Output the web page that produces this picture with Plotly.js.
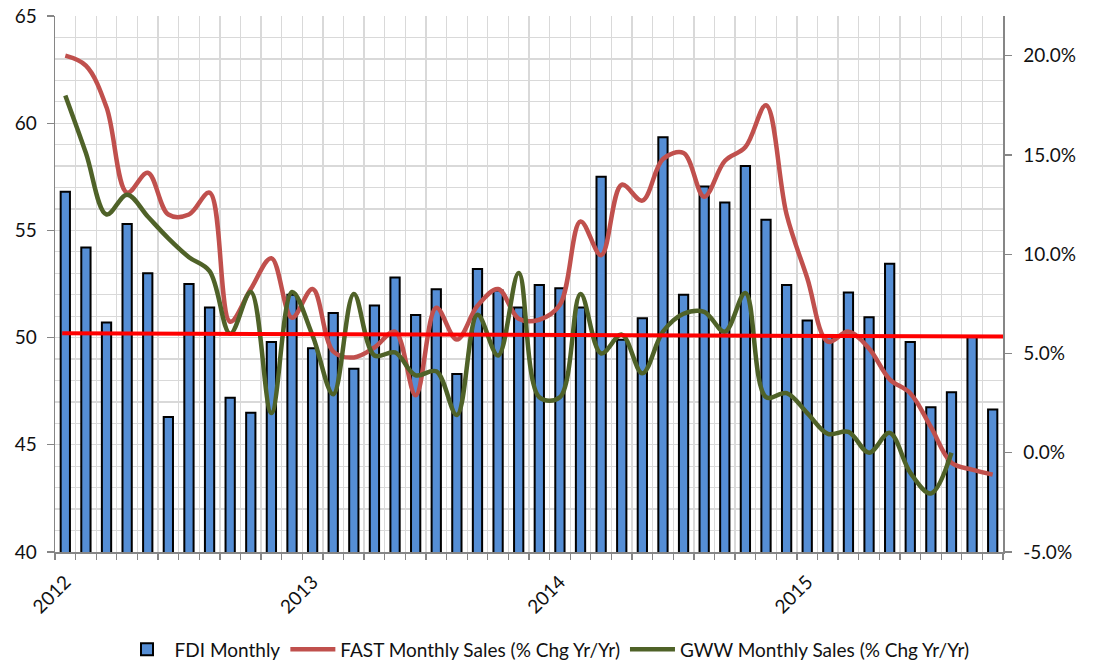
<!DOCTYPE html>
<html><head><meta charset="utf-8">
<script src="https://cdn.plot.ly/plotly-3.0.1.min.js"></script>
<style>html,body{margin:0;padding:0;background:#fff}#chart{width:1094px;height:660px}</style>
</head><body><div id="chart"></div>
<script>
const months = [
  "2012-01","2012-02","2012-03","2012-04","2012-05","2012-06","2012-07","2012-08","2012-09","2012-10","2012-11","2012-12",
  "2013-01","2013-02","2013-03","2013-04","2013-05","2013-06","2013-07","2013-08","2013-09","2013-10","2013-11","2013-12",
  "2014-01","2014-02","2014-03","2014-04","2014-05","2014-06","2014-07","2014-08","2014-09","2014-10","2014-11","2014-12",
  "2015-01","2015-02","2015-03","2015-04","2015-05","2015-06","2015-07","2015-08","2015-09","2015-10"
];
const yearTickMonths = ["2012-01","2013-01","2014-01","2015-01"];
const yearLabels = ["2012","2013","2014","2015"];
const leftTicks = [40, 45, 50, 55, 60, 65];
const rightTicks = [-5, 0, 5, 10, 15, 20];

const fdiMonthly = [
  56.8, 54.2, 50.7, 55.3, 53.0, 46.3, 52.5, 51.4, 47.2, 46.5, 49.8, 52.0,
  49.5, 51.15, 48.55, 51.5, 52.8, 51.05, 52.25, 48.3, 53.2, 52.2, 51.4, 52.45,
  52.3, 51.4, 57.5, 49.9, 50.9, 59.35, 52.0, 57.05, 56.3, 58.0, 55.5, 52.45,
  50.8, 50.1, 52.1, 50.95, 53.45, 49.8, 46.75, 47.45, 50.05, 46.65
];
const fastSales = [
  20.0, 19.5, 17.4, 13.1, 14.1, 12.0, 12.0, 13.1, 6.6, 8.25, 9.8, 6.8,
  8.25, 5.1, 4.8, 5.3, 6.1, 2.9, 7.3, 5.7, 7.4, 8.25, 6.75, 6.7,
  7.45, 11.65, 9.95, 13.5, 12.7, 14.8, 15.1, 12.9, 14.7, 15.4, 17.5, 12.0,
  8.8, 5.6, 6.1, 5.25, 3.7, 3.0, 1.3, -0.5, -0.85, -1.1
];
const gwwSales = [
  18.0, 15.1, 12.0, 13.0, 11.9, 10.8, 9.85, 9.15, 6.0, 8.1, 2.0, 8.1,
  5.9, 2.95, 8.0, 4.9, 5.05, 3.9, 4.1, 1.9, 6.95, 4.9, 9.05, 2.8,
  2.8, 8.0, 5.0, 5.95, 4.0, 6.1, 7.0, 7.1, 6.1, 8.05, 2.8, 3.0,
  2.0, 0.95, 1.05, 0.0, 1.0, -1.0, -2.05, 0.0, null, null
];
const refLineMonths = ["2012-01","2015-10"];
const refLineValues = [50.2, 50.05];

const xIdx = months.map((m, i) => i);
const boundaries = months.map((m, i) => i - 0.5).concat([months.length - 0.5]);
const yearTickVals = yearTickMonths.map(m => months.indexOf(m));
const refX0 = months.indexOf(refLineMonths[0]) - 0.15;
const refX1 = months.indexOf(refLineMonths[1]) + 0.5;
const rightTickText = rightTicks.map(v => v.toFixed(1) + "%");

const FONT = "Lato, 'Noto Sans', sans-serif";
const TXT = "#111111";
const axisColor = "#868686";
const gridColor = "#D9D9D9";
const fs = 19;

const traces = [
  {
    type: "bar", name: "FDI Monthly", x: xIdx, y: fdiMonthly, yaxis: "y",
    width: 0.45,
    marker: { color: "#558ED5", line: { color: "#000000", width: 2 } }
  },
  {
    type: "scatter", mode: "lines", name: "FAST Monthly Sales (% Chg Yr/Yr)",
    x: xIdx, y: fastSales, yaxis: "y2",
    line: { color: "#C0504D", width: 4.5, shape: "spline", smoothing: 1 }
  },
  {
    type: "scatter", mode: "lines", name: "GWW Monthly Sales (% Chg Yr/Yr)",
    x: xIdx, y: gwwSales, yaxis: "y2", connectgaps: false,
    line: { color: "#4F6228", width: 4.5, shape: "spline", smoothing: 1 }
  }
];

const layout = {
  width: 1094, height: 660,
  margin: { l: 55, r: 91, t: 16, b: 108, autoexpand: false },
  paper_bgcolor: "#ffffff", plot_bgcolor: "#ffffff",
  font: { family: FONT, size: fs, color: TXT },
  showlegend: true,
  bargap: 0,
  legend: {
    orientation: "h", xref: "container", yref: "container",
    x: 0.5, xanchor: "center", y: 0.016, yanchor: "middle",
    font: { family: FONT, size: fs, color: TXT }, traceorder: "normal",
    itemwidth: 45
  },
  xaxis: {
    range: [-0.5, months.length - 0.5], automargin: false,
    tickmode: "array", tickvals: yearTickVals, ticktext: yearLabels,
    tickangle: -45, ticks: "", showgrid: false, zeroline: false,
    ticklabelstandoff: 10,
    showline: true, linecolor: axisColor, linewidth: 1.5,
    tickfont: { family: FONT, size: fs, color: TXT },
    minor: { tickmode: "array", tickvals: boundaries, ticks: "outside", ticklen: 6,
             tickcolor: axisColor, tickwidth: 1.3, showgrid: true, gridcolor: gridColor, gridwidth: 1.3 }
  },
  yaxis: {
    range: [40, 65], tickmode: "array", tickvals: leftTicks, automargin: false,
    ticks: "outside", ticklen: 7, tickcolor: axisColor, tickwidth: 1.3,
    ticklabelstandoff: 6,
    showgrid: true, gridcolor: gridColor, gridwidth: 1.3, zeroline: false,
    showline: true, linecolor: axisColor, linewidth: 1.5,
    tickfont: { family: FONT, size: fs, color: TXT },
    minor: { dtick: 1, tick0: 40, showgrid: true, gridcolor: gridColor, gridwidth: 1.3, ticks: "" }
  },
  yaxis2: {
    overlaying: "y", side: "right", range: [-5, 22], automargin: false,
    tickmode: "array", tickvals: rightTicks, ticktext: rightTickText,
    ticks: "outside", ticklen: 7, tickcolor: axisColor, tickwidth: 1.3,
    ticklabelstandoff: 8,
    showgrid: false, zeroline: false,
    showline: true, linecolor: axisColor, linewidth: 1.5,
    tickfont: { family: FONT, size: fs, color: TXT }
  },
  shapes: [
    { type: "line", xref: "x", yref: "y", layer: "above",
      x0: refX0, x1: refX1, y0: refLineValues[0], y1: refLineValues[1],
      line: { color: "#FF0000", width: 4 } }
  ]
};

Plotly.newPlot("chart", traces, layout, { staticPlot: true, displayModeBar: false });
</script>
</body></html>
